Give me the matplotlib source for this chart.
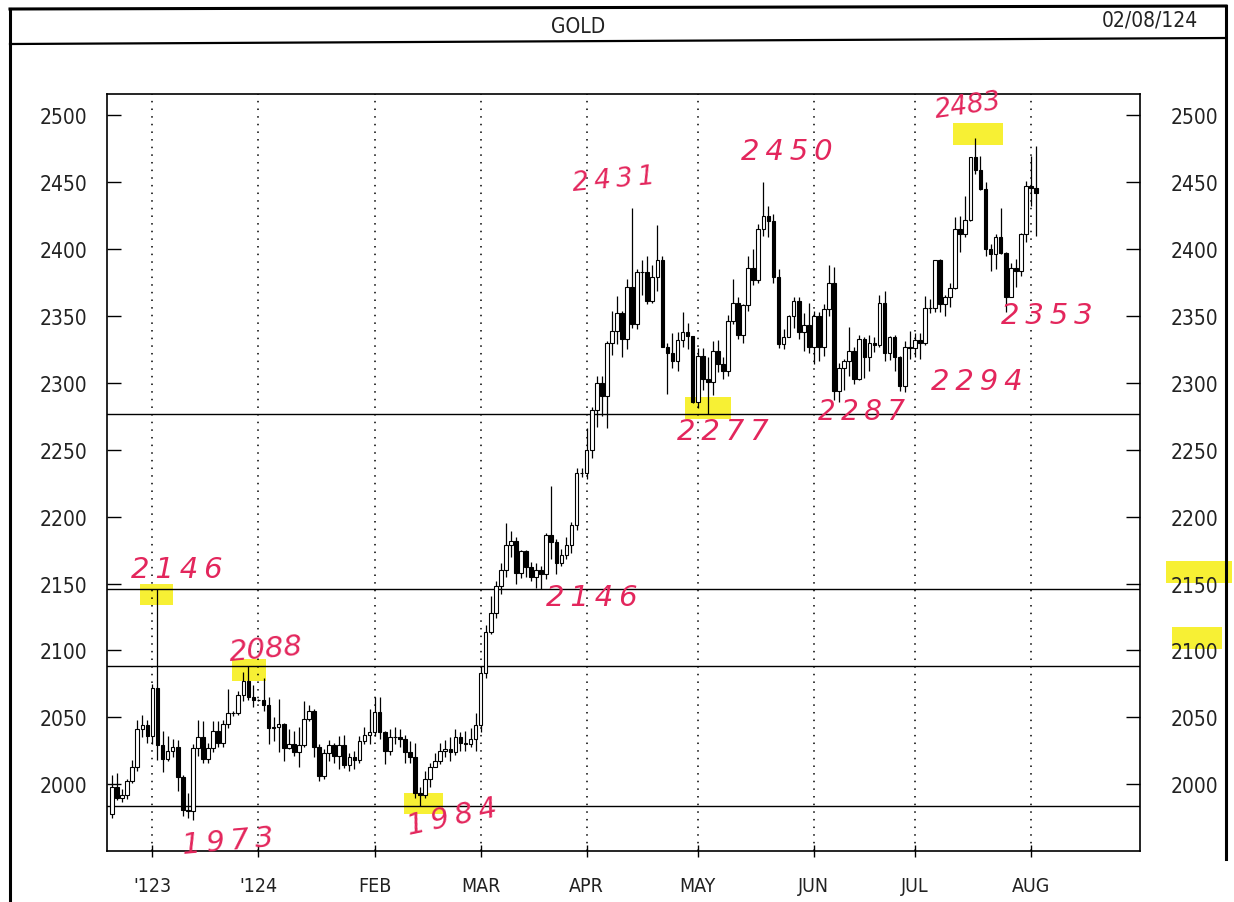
import numpy as np
import pandas as pd
import matplotlib
matplotlib.use("Agg")
import matplotlib.pyplot as plt
from matplotlib.patches import Rectangle
from matplotlib.lines import Line2D

# ---------------- data (daily OHLC, weekdays 2023-11-21 .. 2024-08-02) ----------------
dates = pd.bdate_range("2023-11-21", "2024-08-02")

opens = [
    # Nov
    1978, 1998, 1990, 1992, 2002, 2013, 2041, 2044,
    # Dec
    2036, 2072, 2029, 2019, 2025, 2028, 2005, 1981, 1980, 2027, 2035, 2019, 2027, 2040, 2031, 2045,
    2053, 2053, 2067, 2077, 2065,
    # Jan
    2063, 2063, 2059, 2042, 2043, 2045, 2027, 2030, 2024, 2029, 2049, 2055, 2028, 2006, 2023, 2029,
    2021, 2029, 2014, 2020, 2018, 2032, 2037,
    # Feb
    2039, 2054, 2039, 2025, 2035, 2035, 2034, 2024, 2020, 1993, 1992, 2004, 2013, 2017, 2025, 2026,
    2024, 2035, 2031, 2030, 2034,
    # Mar
    2044, 2083, 2114, 2128, 2148, 2160, 2179, 2182, 2158, 2174, 2162, 2155, 2160, 2157, 2186, 2181,
    2165, 2171, 2179, 2194, 2233,
    # Apr
    2233, 2250, 2280, 2300, 2290, 2330, 2339, 2352, 2333, 2372, 2344, 2383, 2383, 2361, 2379, 2392,
    2327, 2322, 2316, 2332, 2338, 2335,
    # May
    2286, 2320, 2303, 2301, 2324, 2314, 2309, 2346, 2360, 2336, 2358, 2386, 2377, 2415, 2425, 2421,
    2379, 2329, 2334, 2350, 2361, 2338, 2343,
    # Jun
    2327, 2350, 2327, 2355, 2375, 2294, 2311, 2316, 2324, 2303, 2333, 2319, 2330, 2328, 2360, 2322,
    2334, 2319, 2298, 2327,
    # Jul
    2326, 2332, 2330, 2356, 2356, 2392, 2359, 2364, 2371, 2415, 2411, 2422, 2469, 2459, 2445, 2400,
    2396, 2409, 2397, 2364, 2386, 2384, 2411,
    # Aug
    2447, 2446,
]
highs = [
    2007, 2008, 1996, 2004, 2018, 2048, 2052, 2048,
    2075, 2146, 2040, 2036, 2034, 2033, 2007, 1993, 2030, 2048, 2047, 2031, 2047, 2047, 2048, 2071,
    2055, 2070, 2084, 2088, 2074,
    2064, 2079, 2065, 2050, 2064, 2046, 2041, 2040, 2043, 2062, 2059, 2056, 2030, 2026, 2033, 2031,
    2036, 2037, 2023, 2025, 2036, 2043, 2056,
    2065, 2065, 2040, 2041, 2043, 2041, 2037, 2032, 2031, 1998, 2010, 2016, 2023, 2031, 2033, 2035,
    2041, 2039, 2040, 2042, 2053,
    2088, 2119, 2141, 2152, 2165, 2195, 2189, 2185, 2175, 2175, 2166, 2165, 2163, 2188, 2223, 2183,
    2176, 2185, 2196, 2236, 2236,
    2266, 2282, 2305, 2305, 2331, 2354, 2365, 2354, 2378, 2431, 2385, 2392, 2395, 2388, 2418, 2395,
    2330, 2337, 2338, 2353, 2345, 2335,
    2326, 2326, 2319, 2331, 2332, 2319, 2351, 2378, 2364, 2359, 2395, 2400, 2419, 2450, 2432, 2426,
    2385, 2340, 2351, 2364, 2364, 2352, 2360,
    2354, 2353, 2359, 2388, 2387, 2315, 2318, 2342, 2327, 2336, 2334, 2336, 2334, 2366, 2369, 2335,
    2336, 2320, 2331, 2339,
    2337, 2337, 2365, 2363, 2392, 2393, 2366, 2375, 2424, 2425, 2440, 2469, 2483, 2470, 2450, 2404,
    2411, 2431, 2398, 2390, 2393, 2412, 2451,
    2470, 2477,
]
lows = [
    1975, 1988, 1987, 1989, 2001, 2010, 2035, 2031,
    2030, 2018, 2009, 2017, 2020, 1995, 1976, 1975, 1973, 2021, 2016, 2016, 2024, 2028, 2028, 2042,
    2051, 2052, 2062, 2063, 2058,
    2062, 2055, 2030, 2032, 2024, 2017, 2026, 2021, 2013, 2028, 2047, 2020, 2002, 2004, 2017, 2016,
    2011, 2012, 2010, 2011, 2016, 2030, 2030,
    2036, 2034, 2015, 2022, 2030, 2028, 2016, 2016, 1990, 1984, 1990, 1998, 2013, 2015, 2020, 2017,
    2022, 2025, 2025, 2028, 2025,
    2039, 2079, 2112, 2124, 2142, 2155, 2170, 2150, 2154, 2155, 2152, 2147, 2146, 2153, 2168, 2157,
    2163, 2168, 2173, 2190, 2230,
    2228, 2244, 2267, 2275, 2266, 2321, 2329, 2319, 2325, 2341, 2340, 2366, 2359, 2360, 2369, 2327,
    2292, 2311, 2309, 2327, 2325, 2285,
    2281, 2295, 2277, 2291, 2308, 2303, 2305, 2344, 2333, 2330, 2354, 2373, 2375, 2410, 2409, 2375,
    2326, 2325, 2334, 2341, 2333, 2324, 2322,
    2314, 2316, 2320, 2350, 2287, 2286, 2295, 2305, 2299, 2302, 2304, 2309, 2323, 2327, 2316, 2317,
    2309, 2294, 2293, 2318,
    2319, 2318, 2328, 2352, 2353, 2353, 2350, 2357, 2370, 2398, 2409, 2421, 2456, 2444, 2395, 2384,
    2385, 2396, 2353, 2364, 2372, 2380, 2405,
    2432, 2410,
]
closes = [
    1998, 1990, 1992, 2002, 2013, 2041, 2044, 2036,
    2072, 2029, 2019, 2025, 2028, 2005, 1981, 1980, 2027, 2035, 2019, 2027, 2040, 2031, 2045, 2053,
    2053, 2067, 2077, 2065, 2063,
    2063, 2059, 2042, 2043, 2045, 2027, 2030, 2024, 2029, 2049, 2055, 2028, 2006, 2023, 2029, 2021,
    2029, 2014, 2020, 2018, 2032, 2037, 2039,
    2054, 2039, 2025, 2035, 2035, 2034, 2024, 2020, 1993, 1992, 2004, 2013, 2017, 2025, 2026, 2024,
    2035, 2031, 2030, 2034, 2044,
    2083, 2114, 2128, 2148, 2160, 2179, 2182, 2158, 2174, 2162, 2155, 2160, 2157, 2186, 2181, 2165,
    2171, 2179, 2194, 2233, 2233,
    2250, 2280, 2300, 2290, 2330, 2339, 2352, 2333, 2372, 2344, 2383, 2383, 2361, 2379, 2392, 2327,
    2322, 2316, 2332, 2338, 2335, 2286,
    2320, 2303, 2301, 2324, 2314, 2309, 2346, 2360, 2336, 2358, 2386, 2377, 2415, 2425, 2421, 2379,
    2329, 2334, 2350, 2361, 2338, 2343, 2327,
    2350, 2327, 2355, 2375, 2294, 2311, 2316, 2324, 2303, 2333, 2319, 2330, 2328, 2360, 2322, 2334,
    2319, 2298, 2327, 2326,
    2332, 2330, 2356, 2356, 2392, 2359, 2364, 2371, 2415, 2411, 2422, 2469, 2459, 2445, 2400, 2396,
    2409, 2397, 2364, 2386, 2384, 2411, 2447,
    2446, 2442,
]

month_labels = ["'123", "'124", "FEB", "MAR", "APR", "MAY", "JUN", "JUL", "AUG"]
y_ticks = [2000, 2050, 2100, 2150, 2200, 2250, 2300, 2350, 2400, 2450, 2500]
support_levels = [2146, 2088, 1984, 2277]

# handwritten notes: (text, x_px, y_px, rotation, size, spaced)
notes = [("2146", 177, 570, 0, 21, True), ("2088", 266, 650, 5, 21, False),
         ("1973", 228, 842, 5, 21, True), ("1984", 452, 818, 12, 21, True),
         ("2146", 592, 598, 0, 21, True), ("2431", 614, 180, 5, 19, True),
         ("2277", 723, 432, 0, 21, True), ("2450", 787, 152, 0, 21, True),
         ("2287", 862, 412, 0, 20, True), ("2294", 977, 382, 0, 21, True),
         ("2483", 968, 106, 8, 19, False), ("2353", 1047, 316, 0, 21, True)]
highlights = [(140, 585, 33, 21), (232, 660, 34, 22), (404, 794, 39, 21), (685, 398, 46, 22),
              (953, 124, 50, 22), (1166, 562, 66, 22), (1172, 628, 50, 22)]

# ---------------- figure ----------------
W, H = 1234, 903
fig = plt.figure(figsize=(W / 100, H / 100), dpi=100)
fig.patch.set_facecolor("white")

def fx(x):
    return x / W

def fy(y):
    return 1 - y / H

FONT = dict(family="DejaVu Sans", fontstretch="condensed", fontweight="light", color="#222222")

ax = fig.add_axes([fx(107), fy(852), fx(1140) - fx(107), fy(95) - fy(852)])
ax.set_facecolor("none")

n = len(dates)
xs = np.arange(n)
o = np.array(opens, float)
h = np.array(highs, float)
l = np.array(lows, float)
c = np.array(closes, float)

ax.vlines(xs, l, h, color="black", lw=0.9, zorder=3)
up = c >= o
ax.bar(xs[up], (c - o)[up], bottom=o[up], width=0.72, color="white", edgecolor="black", lw=0.8, zorder=4)
ax.bar(xs[~up], (o - c)[~up], bottom=c[~up], width=0.72, color="black", edgecolor="black", lw=0.8, zorder=4)

for lev in support_levels:
    ax.axhline(lev, color="black", lw=1.0, zorder=2)

# month ticks
month_idx = []
prev = None
for i, d in enumerate(dates):
    key = (d.year, d.month)
    if key != prev and d.day <= 5 and i > 0:
        month_idx.append(i)
    prev = key
month_idx = month_idx[:len(month_labels)]
for mi in month_idx:
    ax.axvline(mi, color="black", lw=1.1, ls=(0, (1, 4)), zorder=1)

ax.set_xlim(-1, 203.6)
ax.set_ylim(1950, 2516)
ax.set_xticks(month_idx)
ax.set_xticklabels(month_labels, **FONT, fontsize=14)
ax.set_yticks(y_ticks)
ax.set_yticklabels([str(v) for v in y_ticks], **FONT, fontsize=15)
ax.tick_params(axis="y", direction="in", length=10, width=1, pad=14, left=True, right=False)
ax.tick_params(axis="x", direction="inout", length=8, width=1, pad=14)
for s in ax.spines.values():
    s.set_linewidth(1.2)

ax2 = ax.twinx()
ax2.set_ylim(ax.get_ylim())
ax2.set_yticks(y_ticks)
ax2.set_yticklabels([str(v) for v in y_ticks], **FONT, fontsize=15)
ax2.tick_params(axis="y", direction="in", length=10, width=1, pad=22)
for s in ax2.spines.values():
    s.set_visible(False)

# page frame
fig.add_artist(Line2D([fx(10), fx(1226)], [fy(10), fy(7)], color="black", lw=2.2))
fig.add_artist(Line2D([fx(10), fx(1226)], [fy(45), fy(39)], color="black", lw=1.6))
fig.add_artist(Line2D([fx(10), fx(10)], [fy(10), fy(903)], color="black", lw=2.2))
fig.add_artist(Line2D([fx(1226), fx(1226)], [fy(7), fy(860)], color="black", lw=2.2))

fig.text(fx(578), fy(27), "GOLD", ha="center", va="center", fontsize=15, **FONT)
fig.text(fx(1150), fy(20), "02/08/124", ha="center", va="center", fontsize=15, **FONT)

# highlighter marks (behind the axes content)
for (x0, y0, w, hh) in highlights:
    fig.add_artist(Rectangle((fx(x0), fy(y0 + hh)), w / W, hh / H, transform=fig.transFigure,
                             facecolor="#f7ef1e", edgecolor="none", alpha=0.9, zorder=-1))

# handwritten notes
for (t, x, y, rot, size, spaced) in notes:
    label = "\u2009".join(t) if spaced else t
    fig.text(fx(x), fy(y), label, ha="center", va="center", fontsize=size, rotation=rot,
             color="#e3265c", family="DejaVu Sans", style="oblique", fontweight="light")

fig.savefig("out.png", dpi=100)
